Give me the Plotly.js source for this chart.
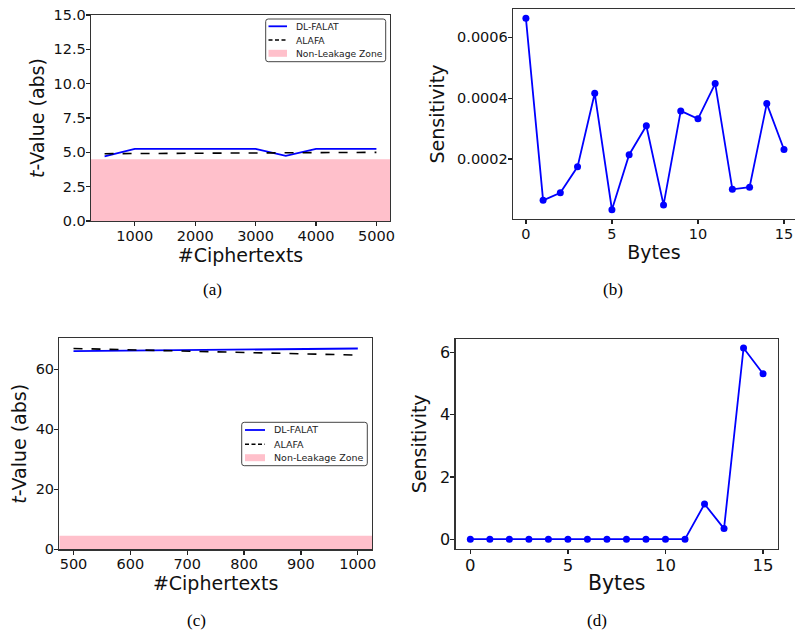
<!DOCTYPE html>
<html>
<head>
<meta charset="utf-8">
<script src="https://cdn.plot.ly/plotly-3.0.1.min.js"></script>
<style>html,body{margin:0;padding:0;background:#fff;}#chart{width:795px;height:633px;}</style>
</head>
<body>
<div id="chart"></div>
<script>
// ---- Data ----
// Panel (a): t-value vs number of ciphertexts
const ciphertextsA = [500, 1000, 1500, 2000, 2500, 3000, 3500, 4000, 4500, 5000];
const dlFalatA = [4.7, 5.25, 5.25, 5.25, 5.25, 5.25, 4.75, 5.25, 5.25, 5.25];
const alafaA = [4.9, 4.91, 4.92, 4.93, 4.94, 4.95, 4.96, 4.97, 4.98, 5.0];
// Panel (b): sensitivity per byte
const bytes = [0, 1, 2, 3, 4, 5, 6, 7, 8, 9, 10, 11, 12, 13, 14, 15];
const sensitivityB = [0.000663, 0.000064, 0.000089, 0.000174, 0.000416, 0.000033, 0.000214, 0.000309,
                      0.000049, 0.000358, 0.000332, 0.000448, 0.000100, 0.000107, 0.000382, 0.000231];
// Panel (c): t-value vs number of ciphertexts
const ciphertextsC = [500, 600, 700, 800, 900, 1000];
const dlFalatC = [66.0, 66.2, 66.4, 66.5, 66.7, 66.9];
const alafaC = [66.9, 66.5, 66.1, 65.6, 65.2, 64.7];
// Panel (d): sensitivity per byte
const sensitivityD = [0, 0, 0, 0, 0, 0, 0, 0, 0, 0, 0, 0, 1.13, 0.34, 6.15, 5.32];
// Non-leakage threshold
const nonLeakageThreshold = 4.5;
const seriesNames = ["DL-FALAT", "ALAFA", "Non-Leakage Zone"];
const captions = ["(a)", "(b)", "(c)", "(d)"];

// ---- Layout helpers ----
const W = 795, H = 633;
const px = v => v / W;
const py = v => 1 - v / H;
const FONT = "DejaVu Sans, sans-serif";
const spine = "#333";
const BLUE = "#0000ff", PINK = "#ffc0cb";

const rangeA = [275, 5225];
const rangeC = [475, 1025];

function axisBase(extra) {
  return Object.assign({
    showline: true, mirror: true, linecolor: spine, linewidth: 1.3,
    ticks: "outside", ticklen: 4, tickwidth: 1.2, tickcolor: "#222",
    ticklabelstandoff: -3,
    showgrid: false, zeroline: false, automargin: false,
    tickfont: {family: FONT, size: 14.5, color: "#111"}
  }, extra);
}

const traces = [
  // Panel (a)
  {x: rangeA, y: [nonLeakageThreshold, nonLeakageThreshold], xaxis: "x", yaxis: "y", mode: "none",
   fill: "tozeroy", fillcolor: PINK, name: seriesNames[2], showlegend: false},
  {x: ciphertextsA, y: dlFalatA, xaxis: "x", yaxis: "y", mode: "lines", line: {color: BLUE, width: 1.8},
   name: seriesNames[0], showlegend: false},
  {x: ciphertextsA, y: alafaA, xaxis: "x", yaxis: "y", mode: "lines", line: {color: "#000", width: 1.6, dash: "dash"},
   name: seriesNames[1], showlegend: false},
  // Panel (b)
  {x: bytes, y: sensitivityB, xaxis: "x2", yaxis: "y2", mode: "lines+markers",
   line: {color: BLUE, width: 1.8}, marker: {color: BLUE, size: 7}, showlegend: false},
  // Panel (c)
  {x: rangeC, y: [nonLeakageThreshold, nonLeakageThreshold], xaxis: "x3", yaxis: "y3", mode: "none",
   fill: "tozeroy", fillcolor: PINK, name: seriesNames[2], showlegend: false},
  {x: ciphertextsC, y: dlFalatC, xaxis: "x3", yaxis: "y3", mode: "lines", line: {color: BLUE, width: 1.8},
   name: seriesNames[0], showlegend: false},
  {x: ciphertextsC, y: alafaC, xaxis: "x3", yaxis: "y3", mode: "lines", line: {color: "#000", width: 1.6, dash: "dash"},
   name: seriesNames[1], showlegend: false},
  // Panel (d)
  {x: bytes, y: sensitivityD, xaxis: "x4", yaxis: "y4", mode: "lines+markers",
   line: {color: BLUE, width: 1.8}, marker: {color: BLUE, size: 7}, showlegend: false}
];

// ---- Hand-drawn legends (matplotlib-style compact boxes) ----
function roundedRectPath(x0, y0, x1, y1, r) {
  const X = v => px(v).toFixed(5), Y = v => py(v).toFixed(5);
  return `M ${X(x0 + r)},${Y(y0)} L ${X(x1 - r)},${Y(y0)} Q ${X(x1)},${Y(y0)} ${X(x1)},${Y(y0 + r)} ` +
         `L ${X(x1)},${Y(y1 - r)} Q ${X(x1)},${Y(y1)} ${X(x1 - r)},${Y(y1)} ` +
         `L ${X(x0 + r)},${Y(y1)} Q ${X(x0)},${Y(y1)} ${X(x0)},${Y(y1 - r)} ` +
         `L ${X(x0)},${Y(y0 + r)} Q ${X(x0)},${Y(y0)} ${X(x0 + r)},${Y(y0)} Z`;
}
const shapes = [];
const annotations = [];
function addLegend(box, rowYs, symX0, symX1, textX, fontSize) {
  shapes.push({type: "path", xref: "paper", yref: "paper", layer: "above",
    path: roundedRectPath(box[0], box[1], box[2], box[3], 2.5),
    line: {color: "#444", width: 1}, fillcolor: "rgba(255,255,255,0.8)"});
  shapes.push({type: "line", xref: "paper", yref: "paper", layer: "above",
    x0: px(symX0), x1: px(symX1), y0: py(rowYs[0]), y1: py(rowYs[0]), line: {color: BLUE, width: 1.8}});
  shapes.push({type: "line", xref: "paper", yref: "paper", layer: "above",
    x0: px(symX0), x1: px(symX1), y0: py(rowYs[1]), y1: py(rowYs[1]), line: {color: "#000", width: 1.6, dash: "4px,2.5px"}});
  shapes.push({type: "rect", xref: "paper", yref: "paper", layer: "above",
    x0: px(symX0), x1: px(symX1), y0: py(rowYs[2] - 3.5), y1: py(rowYs[2] + 3.5), line: {width: 0}, fillcolor: PINK});
  seriesNames.forEach((n, i) => annotations.push({text: n, xref: "paper", yref: "paper",
    x: px(textX), y: py(rowYs[i]), xanchor: "left", yanchor: "middle", showarrow: false,
    font: {family: FONT, size: fontSize, color: "#222"}}));
}
addLegend([265.7, 19, 385.7, 61.7], [26.3, 40, 53.3], 268.5, 287, 294, 9.2);
addLegend([241.7, 422.3, 367.3, 465.7], [430, 444.3, 457.7], 245, 265, 272, 9.5);

[[captions[0], 212, 290], [captions[1], 613, 290], [captions[2], 196, 620], [captions[3], 597, 620]]
  .forEach(([t, x, y]) => annotations.push({text: t, xref: "paper", yref: "paper", x: px(x), y: py(y),
    showarrow: false, xanchor: "center", yanchor: "middle",
    font: {family: "Liberation Serif, serif", size: 17, color: "#000"}}));

const titleFont = {family: FONT, size: 19, color: "#111"};

const layout = {
  width: W, height: H,
  margin: {l: 0, r: 0, t: 0, b: 0},
  paper_bgcolor: "#fff", plot_bgcolor: "#fff",
  font: {family: FONT},
  showlegend: false,
  xaxis: axisBase({domain: [px(91), px(390)], range: rangeA, anchor: "y",
    tickvals: [1000, 2000, 3000, 4000, 5000],
    title: {text: "#Ciphertexts", font: titleFont, standoff: 2}}),
  yaxis: axisBase({domain: [py(221), py(15)], range: [0, 15], anchor: "x", dtick: 2.5, tickformat: ".1f",
    title: {text: "<i>t</i>-Value (abs)", font: titleFont, standoff: 4}}),
  xaxis2: axisBase({domain: [px(513), 1], range: [-0.75, 15.64], anchor: "y2", dtick: 5,
    title: {text: "Bytes", font: titleFont, standoff: 5}}),
  yaxis2: axisBase({domain: [py(219), py(9)], range: [0.0000026, 0.000693], anchor: "x2",
    tickvals: [0.0002, 0.0004, 0.0006], tickformat: ".4f",
    title: {text: "Sensitivity", font: titleFont, standoff: 7}}),
  xaxis3: axisBase({domain: [px(59.3), px(372)], range: rangeC, anchor: "y3", dtick: 100,
    title: {text: "#Ciphertexts", font: titleFont, standoff: 2}}),
  yaxis3: axisBase({domain: [py(549.3), py(338.3)], range: [0, 70.3], anchor: "x3", dtick: 20,
    title: {text: "<i>t</i>-Value (abs)", font: titleFont, standoff: 4}}),
  xaxis4: axisBase({domain: [px(455.7), px(777.7)], range: [-0.75, 15.75], anchor: "y4", dtick: 5,
    tickfont: {family: FONT, size: 16.5, color: "#111"},
    title: {text: "Bytes", font: {family: FONT, size: 20.5, color: "#111"}, standoff: 2}}),
  yaxis4: axisBase({domain: [py(548.7), py(339)], range: [-0.307, 6.44], anchor: "x4", dtick: 2,
    tickfont: {family: FONT, size: 16, color: "#111"},
    title: {text: "Sensitivity", font: titleFont, standoff: 8}}),
  shapes: shapes,
  annotations: annotations
};

Plotly.newPlot("chart", traces, layout, {staticPlot: true, displayModeBar: false});
</script>
</body>
</html>
